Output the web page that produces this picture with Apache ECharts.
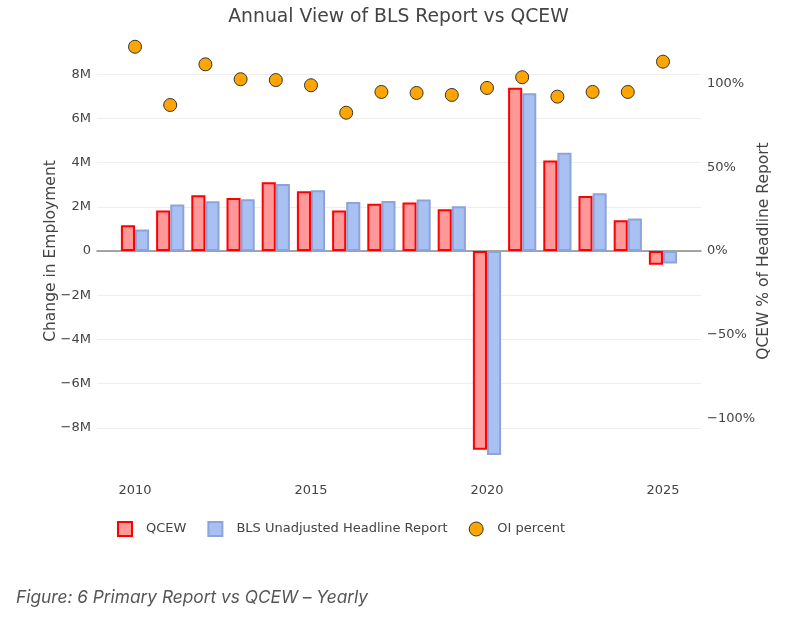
<!DOCTYPE html>
<html>
<head>
<meta charset="utf-8">
<script src="https://cdn.jsdelivr.net/npm/echarts@6/dist/echarts.min.js"></script>
<style>html,body{margin:0;padding:0;background:#fff;}#c{width:797px;height:621px;}</style>
</head>
<body>
<div id="c"></div>
<script>
const years = [2010,2011,2012,2013,2014,2015,2016,2017,2018,2019,2020,2021,2022,2023,2024,2025];
const qcew = [1.16e6,1.83e6,2.52e6,2.40e6,3.11e6,2.70e6,1.83e6,2.14e6,2.19e6,1.89e6,-8.99e6,7.39e6,4.10e6,2.49e6,1.39e6,-0.62e6];
const bls = [0.97e6,2.10e6,2.25e6,2.34e6,3.03e6,2.75e6,2.22e6,2.26e6,2.33e6,2.02e6,-9.23e6,7.14e6,4.45e6,2.61e6,1.47e6,-0.57e6];
const oiPercent = [122,87.2,111.5,102.6,102.1,99,82.6,95,94.4,93.2,97.4,103.8,92.2,95,95,113.1];
const leftTicks = [-8e6,-6e6,-4e6,-2e6,0,2e6,4e6,6e6,8e6];
const rightTicks = [-100,-50,0,50,100];
const xTicks = [2010,2015,2020,2025];

const FONT = 'DejaVu Sans';
const minus = s => s.replace('-', '\u2212');
const chart = echarts.init(document.getElementById('c'));
chart.setOption({
  animation: false,
  textStyle: {fontFamily: FONT},
  title: {
    text: 'Annual View of BLS Report vs QCEW',
    left: 'center', top: 3,
    textStyle: {fontFamily: FONT, fontSize: 18.8, fontWeight: 'normal', color: '#444'}
  },
  grid: {left: 97, right: 96, top: 30, height: 442},
  legend: {
    left: 112, top: 516,
    itemWidth: 14, itemHeight: 14, itemGap: 21,
    textStyle: {fontFamily: FONT, fontSize: 13, color: '#444', padding: [0,0,0,9]},
    data: [
      {name: 'QCEW', icon: 'rect'},
      {name: 'BLS Unadjusted Headline Report', icon: 'rect'},
      {name: 'OI percent', icon: 'circle', itemStyle: {borderWidth: 1, borderColor: '#333'}}
    ]
  },
  xAxis: {
    type: 'value', min: 2008.92, max: 2026.08,
    axisLine: {show: true, onZero: true, lineStyle: {color: '#888', width: 1.5}},
    axisTick: {show: false},
    splitLine: {show: false},
    axisLabel: {customValues: xTicks, formatter: v => String(v), color: '#444', fontSize: 13, margin: 12, fontFamily: FONT}
  },
  yAxis: [
    {
      type: 'value', min: -10e6, max: 10e6,
      name: 'Change in Employment', nameLocation: 'middle', nameGap: 38, nameMoveOverlap: false,
      nameTextStyle: {fontFamily: FONT, fontSize: 15.5, color: '#444'},
      axisLine: {show: false},
      axisTick: {show: false, customValues: leftTicks},
      axisLabel: {customValues: leftTicks, color: '#444', fontSize: 13, margin: 6, fontFamily: FONT,
        formatter: v => v === 0 ? '0' : minus((v/1e6) + 'M')},
      splitLine: {show: true, lineStyle: {color: '#eeeeee', width: 1}}
    },
    {
      type: 'value', min: -132, max: 132, position: 'right',
      name: 'QCEW % of Headline Report', nameLocation: 'middle', nameGap: 55, nameRotate: 90, nameMoveOverlap: false,
      nameTextStyle: {fontFamily: FONT, fontSize: 15.5, color: '#444'},
      axisLine: {show: false},
      axisTick: {show: false, customValues: rightTicks},
      axisLabel: {customValues: rightTicks, color: '#444', fontSize: 13, margin: 6, fontFamily: FONT,
        formatter: v => minus(v + '%')},
      splitLine: {show: false}
    }
  ],
  series: [
    {
      name: 'QCEW', type: 'bar', yAxisIndex: 0,
      data: years.map((y,i) => [y, qcew[i]]),
      barWidth: 14.1, barGap: '0%',
      itemStyle: {color: '#ff9999', borderColor: '#ff0000', borderWidth: 2}
    },
    {
      name: 'BLS Unadjusted Headline Report', type: 'bar', yAxisIndex: 0,
      data: years.map((y,i) => [y, bls[i]]),
      barWidth: 14.1, barGap: '0%',
      itemStyle: {color: '#a9c0f2', borderColor: '#8ea3d8', borderWidth: 2}
    },
    {
      name: 'OI percent', type: 'scatter', yAxisIndex: 1,
      data: years.map((y,i) => [y, oiPercent[i]]),
      symbolSize: 13, z: 5,
      itemStyle: {color: '#ffa500', borderColor: '#333', borderWidth: 1, opacity: 1}
    }
  ],
  graphic: [{
    type: 'text', left: 16, top: 589,
    style: {text: 'Figure: 6 Primary Report vs QCEW \u2013 Yearly', font: 'italic 17.3px Inter', fill: '#555'}
  }]
});
</script>
</body>
</html>
